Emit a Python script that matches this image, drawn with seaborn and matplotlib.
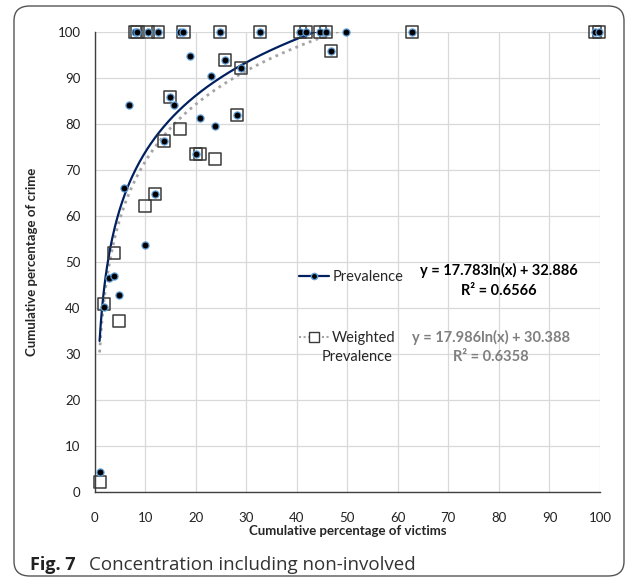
import numpy as np
import matplotlib
matplotlib.use('Agg')
import matplotlib.pyplot as plt
import seaborn as sns
from matplotlib.lines import Line2D
from matplotlib.patches import FancyBboxPatch

# prevalence points (dots)
prev_x = [1.0, 1.9, 2.9, 3.8, 4.9, 5.8, 6.8, 8.1, 8.5, 9.9, 10.6, 11.9, 12.6, 13.8,
          14.9, 15.8, 16.9, 17.6, 18.9, 20.0, 20.9, 23.0, 23.8, 24.8, 25.8, 28.1,
          29.0, 32.7, 40.7, 41.8, 44.6, 45.8, 46.8, 49.8, 62.9, 99.0, 99.8]
prev_y = [4.5, 40.3, 46.5, 46.9, 42.8, 66.2, 84.2, 100, 100, 53.8, 100, 64.8, 100, 76.4,
          85.8, 84.2, 100, 100, 94.8, 73.6, 81.4, 90.4, 79.5, 100, 93.9, 82.0,
          92.2, 100, 100, 100, 100, 100, 95.9, 100, 100, 100, 100]

# weighted prevalence points (squares)
wprev_x = [1.0, 1.9, 3.8, 4.9, 8.1, 8.5, 9.9, 10.6, 11.9, 12.6, 13.8, 14.9, 16.9, 17.6,
           20.0, 20.9, 23.8, 24.8, 25.8, 28.1, 29.0, 32.7, 40.7, 41.8, 44.6, 45.8,
           46.8, 62.9, 99.0, 99.8]
wprev_y = [2.3, 41.0, 51.9, 37.2, 100, 100, 62.2, 100, 64.8, 100, 76.4, 85.8, 79.0, 100,
           73.6, 73.6, 72.5, 100, 93.9, 82.0, 92.2, 100, 100, 100, 100, 100,
           95.9, 100, 100, 100]

# trendline coefficients shown on the chart: y = a ln(x) + b
prev_fit = (17.783, 32.886, 0.6566)
wprev_fit = (17.986, 30.388, 0.6358)

ticks = list(range(0, 101, 10))

sns.set_style('white')
plt.rcParams['font.family'] = ['Lato', 'DejaVu Sans']

navy = '#002060'
grey_line = '#A5A5A5'

fig = plt.figure(figsize=(6.37, 5.84), dpi=100)
ax = fig.add_axes([0.1484, 0.157, 0.7935, 0.7882])

# trendlines
xs = np.linspace(min(prev_x), max(prev_x), 400)
ax.plot(xs, prev_fit[0] * np.log(xs) + prev_fit[1], color=navy, lw=1.6, zorder=3)
xs = np.linspace(min(wprev_x), max(wprev_x), 400)
ax.plot(xs, wprev_fit[0] * np.log(xs) + wprev_fit[1], color=grey_line, lw=2.0,
        linestyle=(0, (1, 1.6)), zorder=2)

sns.scatterplot(x=wprev_x, y=wprev_y, marker='s', s=75, facecolor='none',
                edgecolor='#3a3a3a', linewidth=1.1, ax=ax, zorder=4, clip_on=False)
sns.scatterplot(x=prev_x, y=prev_y, marker='o', s=26, color='black',
                edgecolor='#5B9BD5', linewidth=0.9, ax=ax, zorder=5, clip_on=False)

ax.set_xlim(0, 100)
ax.set_ylim(0, 100)
ax.set_xticks(ticks)
ax.set_yticks(ticks)
ax.grid(True, color='#D9D9D9', lw=0.9)
ax.set_axisbelow(True)
for s in ['top', 'right']:
    ax.spines[s].set_visible(False)
for s in ['left', 'bottom']:
    ax.spines[s].set_color('#404040')
    ax.spines[s].set_linewidth(1.0)
ax.tick_params(axis='x', length=0, pad=14, labelsize=9.5, labelcolor='#222222')
ax.tick_params(axis='y', length=0, pad=10, labelsize=9.5, labelcolor='#222222')
ax.set_xlabel('Cumulative percentage of victims', fontsize=9.5, fontweight='bold', labelpad=1)
ax.set_ylabel('Cumulative percentage of crime', fontsize=9.5, fontweight='bold', labelpad=14)

handles = [
    Line2D([], [], color=navy, lw=1.6, marker='o', markersize=4.5,
           markerfacecolor='black', markeredgecolor='#5B9BD5'),
    Line2D([], [], color=grey_line, lw=1.5, linestyle=(0, (1, 1.2)), marker='s',
           markersize=7, markerfacecolor='white', markeredgecolor='#3a3a3a'),
]
leg = ax.legend(handles, ['Prevalence', 'Weighted'], loc='upper left',
                bbox_to_anchor=(0.378, 0.512), frameon=False, fontsize=10.5,
                handlelength=2.1, handletextpad=0.2, labelspacing=3.25)
ax.text(52.0, 29.3, 'Prevalence', ha='center', va='center', fontsize=10.5)

a, b, r2 = prev_fit
ax.text(80.0, 46.0, f'y = {a}ln(x) + {b}\nR² = {r2}', ha='center', va='center',
        fontsize=10.5, fontweight='bold', color='black', linespacing=1.5)
a, b, r2 = wprev_fit
ax.text(78.4, 31.6, f'y = {a}ln(x) + {b}\nR² = {r2}', ha='center', va='center',
        fontsize=10.5, fontweight='bold', color='#7F7F7F', linespacing=1.5)

# caption and frame
fig.text(30 / 637, 1 - 565 / 584, 'Fig. 7', fontsize=13, fontweight='bold',
         family='Open Sans', color='#222222', va='center')
fig.text(89 / 637, 1 - 565 / 584, 'Concentration including non-involved', fontsize=13.5,
         family='Open Sans', color='#333333', va='center')
box = FancyBboxPatch((14 / 637, 8 / 584), 610 / 637, 570 / 584,
                     boxstyle='round,pad=0,rounding_size=0.025', transform=fig.transFigure,
                     facecolor='none', edgecolor='#555555', lw=1.0)
fig.patches.append(box)

fig.savefig('out.png', dpi=100)
